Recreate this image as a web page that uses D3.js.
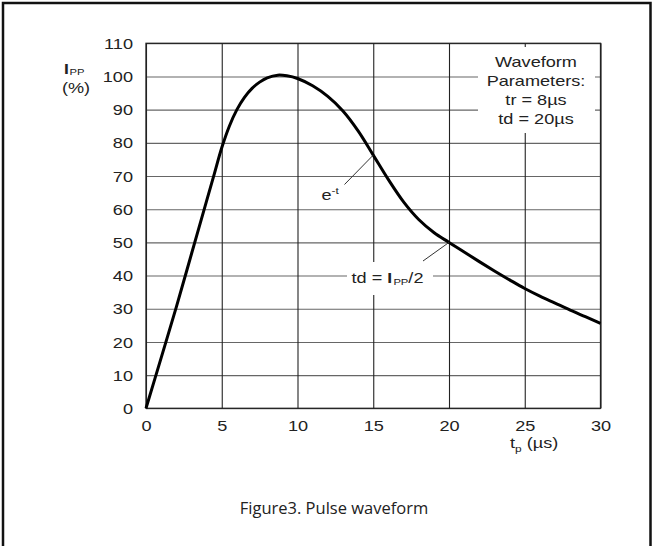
<!DOCTYPE html>
<html>
<head>
<meta charset="utf-8">
<script src="https://cdn.jsdelivr.net/npm/d3@7"></script>
<style>
  html, body { margin: 0; padding: 0; background: #fff; }
  svg { display: block; }
</style>
</head>
<body>
<svg id="chart" width="654" height="546"></svg>
<script>
// ---- data ----
const timeUs = [0, 1, 2, 3, 4, 4.5, 5, 5.5, 6, 6.5, 7, 7.5, 8, 8.7, 9.3, 10, 11, 12, 13, 14, 15, 16, 17, 18, 19, 20, 21, 22, 23, 24, 25, 26, 27, 28, 29, 30];
const ippPct = [0, 15.2, 30.5, 46.5, 62.5, 70.5, 78.5, 85, 90, 93.7, 96.4, 98.3, 99.6, 100.4, 100.2, 99.4, 97.2, 94, 89.6, 83.6, 76.3, 68.9, 62.2, 56.9, 53, 50, 47.1, 44.2, 41.4, 38.7, 36.1, 33.8, 31.7, 29.6, 27.6, 25.6];
const xTicks = [0, 5, 10, 15, 20, 25, 30];
const yTicks = [0, 10, 20, 30, 40, 50, 60, 70, 80, 90, 100, 110];
const paramLines = ["Waveform", "Parameters:", "tr = 8µs", "td = 20µs"];
const caption = "Figure3. Pulse waveform";

const svg = d3.select("#chart");
const SX = 1.25; // horizontal stretch of the lettering in the reference
const FONT = "'Liberation Sans', Arial, sans-serif";

// outer frame
svg.append("rect").attr("x", 3).attr("y", 3).attr("width", 647.5).attr("height", 570)
  .attr("fill", "none").attr("stroke", "#111").attr("stroke-width", 2.5);

const L = 146, R = 600.5, T = 43.3, B = 408.3;
const x = d3.scaleLinear().domain([0, 30]).range([L, R]);
const y = d3.scaleLinear().domain([0, 110]).range([B, T]);

// horizontal grid
svg.append("g").attr("transform", `translate(${L},0)`)
  .call(d3.axisLeft(y).tickValues(yTicks).tickSize(-(R - L)).tickFormat(""))
  .call(g => g.select(".domain").remove())
  .call(g => g.selectAll(".tick line").attr("stroke", "#666").attr("stroke-width", 1.1));
// vertical grid
svg.append("g").attr("transform", `translate(0,${B})`)
  .call(d3.axisBottom(x).tickValues(xTicks).tickSize(-(B - T)).tickFormat(""))
  .call(g => g.select(".domain").remove())
  .call(g => g.selectAll(".tick line").attr("stroke", "#222").attr("stroke-width", 1.1));

// white masks behind the annotation texts
svg.append("rect").attr("x", 478).attr("y", 47).attr("width", 117).attr("height", 86).attr("fill", "#fff");
svg.append("rect").attr("x", 347).attr("y", 262).attr("width", 86).attr("height", 33).attr("fill", "#fff");

// plot frame
svg.append("rect").attr("x", L).attr("y", T).attr("width", R - L).attr("height", B - T)
  .attr("fill", "none").attr("stroke", "#222").attr("stroke-width", 1.3);

// axis labels
const yAx = svg.append("g").attr("transform", `translate(${L},0)`)
  .call(d3.axisLeft(y).tickValues(yTicks).tickSize(0).tickPadding(13));
yAx.select(".domain").remove();
yAx.selectAll("text").attr("font-family", FONT).attr("font-size", 14.5).attr("fill", "#222")
  .attr("x", -13 / SX).attr("dy", "0.35em").attr("transform", `scale(${SX},1)`);

const xAx = svg.append("g").attr("transform", `translate(0,${B})`)
  .call(d3.axisBottom(x).tickValues(xTicks).tickSize(0).tickPadding(12));
xAx.select(".domain").remove();
xAx.selectAll("text").attr("font-family", FONT).attr("font-size", 14.5).attr("fill", "#222")
  .attr("dy", "0.71em").attr("transform", `scale(${SX},1)`);

// curve
const line = d3.line().x((d, i) => x(timeUs[i])).y(d => y(d)).curve(d3.curveCatmullRom.alpha(0.5));
svg.append("path").datum(ippPct).attr("d", line)
  .attr("fill", "none").attr("stroke", "#000").attr("stroke-width", 3).attr("stroke-linejoin", "round");

// helper for stretched text
function stretched(px, py, anchor) {
  return svg.append("g").attr("transform", `translate(${px},${py}) scale(${SX},1)`)
    .append("text").attr("font-family", FONT).attr("font-size", 14.5).attr("fill", "#222")
    .attr("text-anchor", anchor);
}

// waveform parameters box
paramLines.forEach((s, i) => {
  stretched(536, 66.7 + i * 19, "middle").text(s);
});

// y label I_PP (%)
const yl = stretched(64, 73.5, "start");
yl.append("tspan").attr("font-weight", "bold").attr("font-size", 14).text("I");
yl.append("tspan").attr("font-size", 9).attr("dx", 0.5).attr("dy", 1).text("PP");
stretched(76, 93, "middle").text("(%)");

// x label t_p (µs)
const xl = stretched(510, 447.5, "start");
xl.append("tspan").text("t");
xl.append("tspan").attr("font-size", 9.5).attr("dy", 4).text("p");
xl.append("tspan").attr("dy", -4).text(" (µs)");

// e^-t annotation
svg.append("line").attr("x1", 344.5).attr("y1", 184.5).attr("x2", x(15)).attr("y2", y(76.3))
  .attr("stroke", "#333").attr("stroke-width", 1);
const et = stretched(321.5, 200, "start");
et.append("tspan").text("e");
et.append("tspan").attr("font-size", 9.5).attr("dy", -6).text("-t");

// td = I_PP/2 annotation
svg.append("line").attr("x1", 423).attr("y1", 261).attr("x2", x(20)).attr("y2", y(50))
  .attr("stroke", "#333").attr("stroke-width", 1);
const td = stretched(351.5, 283.3, "start");
td.append("tspan").text("td = ");
td.append("tspan").attr("font-weight", "bold").attr("font-size", 14).text("I");
td.append("tspan").attr("font-size", 9).attr("dx", 1).attr("dy", 1.5).text("PP");
td.append("tspan").attr("dy", -1.5).text("/2");

// caption
svg.append("text").attr("x", 334).attr("y", 514).attr("text-anchor", "middle")
  .attr("font-family", "'Open Sans', 'Noto Sans', sans-serif").attr("font-size", 16.5)
  .attr("fill", "#222").text(caption);
</script>
</body>
</html>
